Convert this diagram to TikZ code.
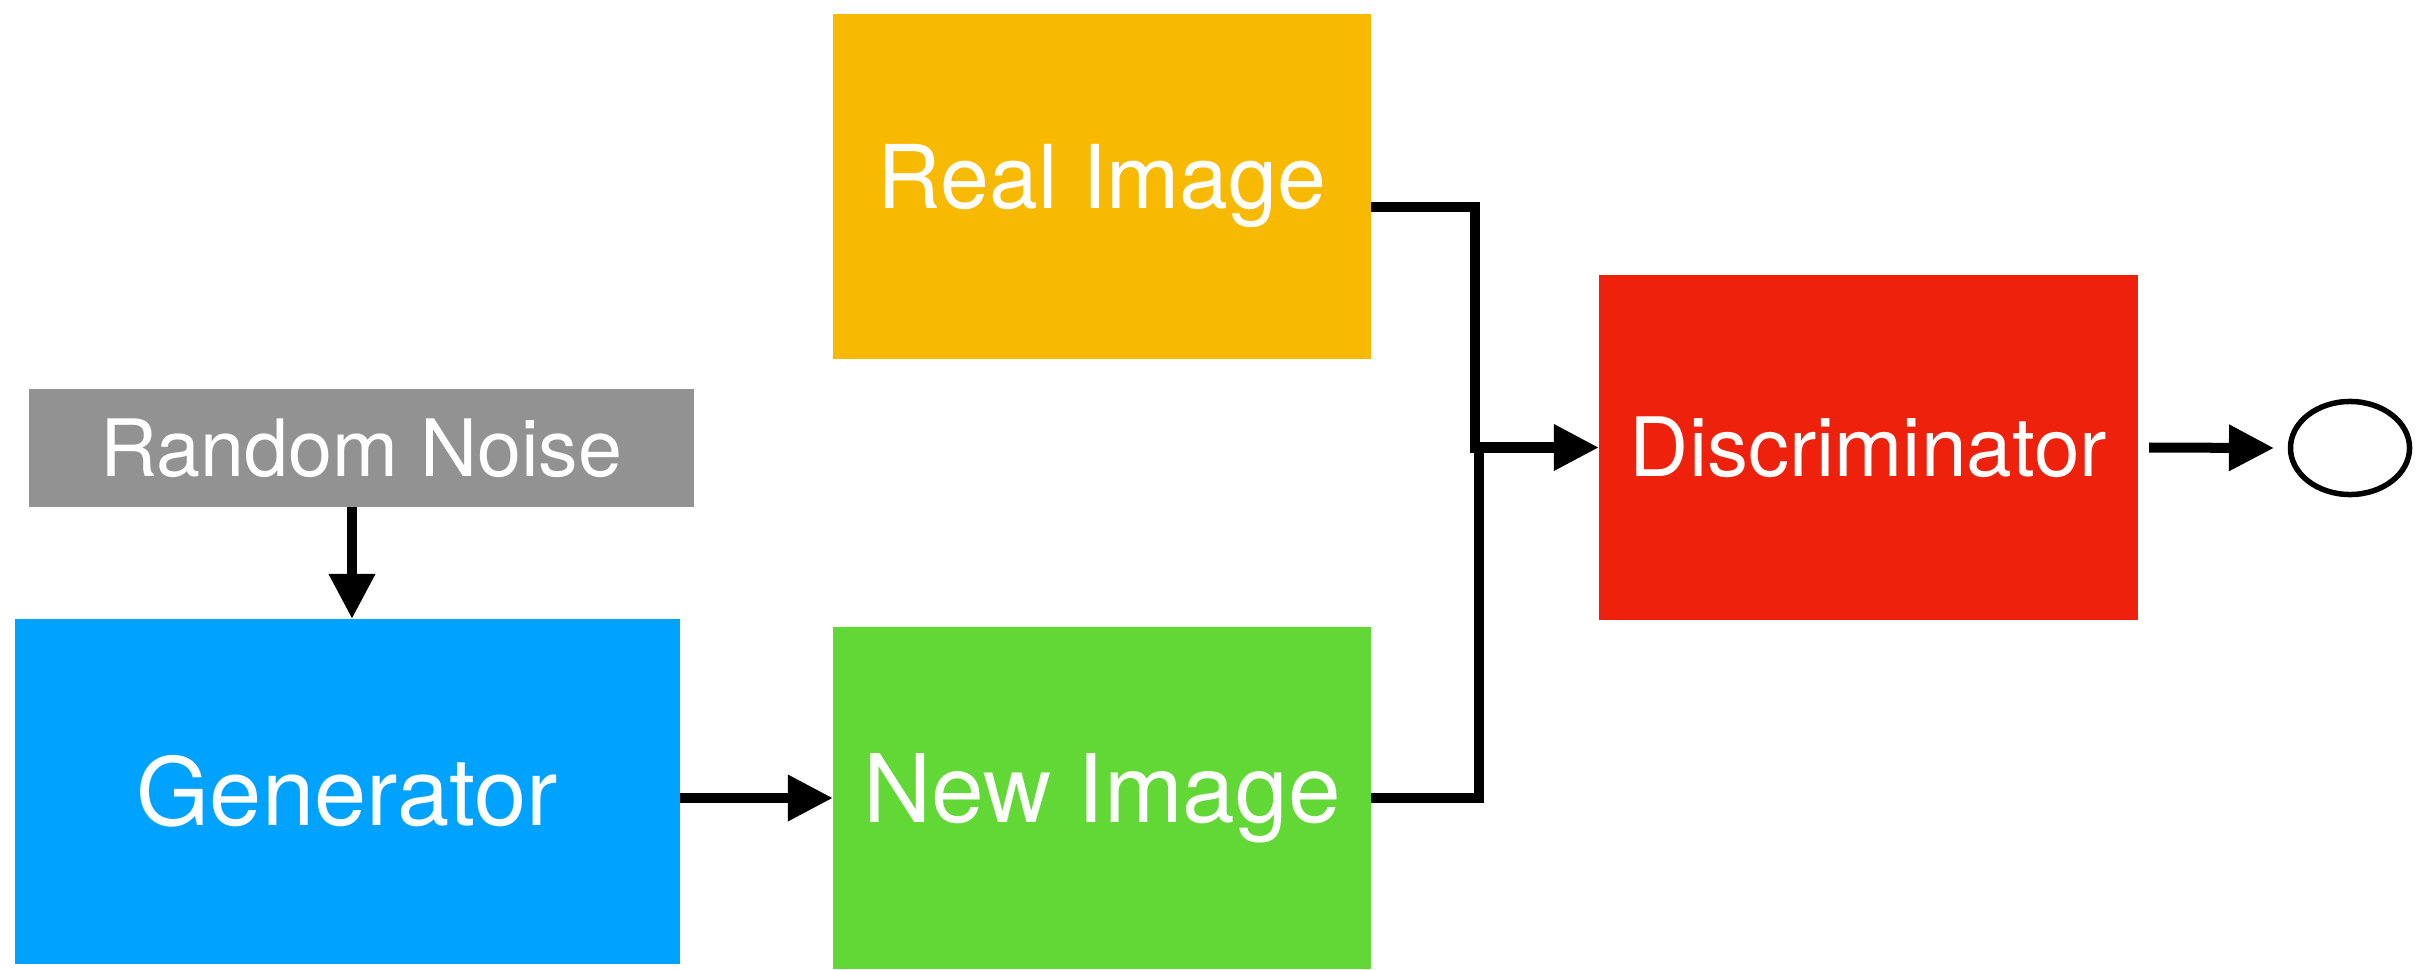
\documentclass[tikz,border=0pt]{standalone}
\usepackage{fontspec}
\setmainfont{TeX Gyre Heros}
\usetikzlibrary{arrows.meta,shapes.geometric,calc}
\definecolor{realc}{HTML}{F8BA00}
\definecolor{noisec}{HTML}{929292}
\definecolor{genc}{HTML}{00A2FF}
\definecolor{newc}{HTML}{61D836}
\definecolor{discc}{HTML}{EE220C}
\begin{document}
\begin{tikzpicture}[x=0.01cm,y=-0.01cm,
  block/.style={rectangle, inner sep=0pt, outer sep=0pt, text=white, align=center},
  wire/.style={line width=1.0mm, black, line join=miter},
  arr/.style={wire, -{Triangle[length=4.5mm,width=4.4mm]}},
]
\useasboundingbox (0,0) rectangle (2430,970);

% blocks
\node[block, fill=realc, minimum width=53.8mm, minimum height=34.5mm,
      font=\fontsize{25pt}{30pt}\selectfont] (real) at (1102,186.5) {Real Image};
\node[block, fill=noisec, minimum width=66.5mm, minimum height=11.8mm,
      font=\fontsize{22.5pt}{27pt}\selectfont] (noise) at (361.5,448) {Random Noise};
\node[block, fill=genc, minimum width=66.5mm, minimum height=34.5mm,
      font=\fontsize{26.7pt}{32pt}\selectfont] (gen) at (347.5,791.5) {Generator};
\node[block, fill=newc, minimum width=53.8mm, minimum height=34.2mm,
      font=\fontsize{26.9pt}{32pt}\selectfont] (newimg) at (1102,798) {New Image};
\node[block, fill=discc, minimum width=53.9mm, minimum height=34.5mm,
      font=\fontsize{23.3pt}{28pt}\selectfont] (disc) at (1868.5,447.5) {Discriminator};
\node[ellipse, draw, line width=0.55mm, inner sep=0pt, outer sep=0pt,
      minimum width=11.9mm, minimum height=9.3mm] (out) at (2350,448) {};

% connectors
\draw[arr] ([xshift=-0.95mm]noise.south) -- ([xshift=-0.95mm]noise.south |- gen.north);
\draw[arr] (gen.east |- newimg.west) -- (newimg.west);
\draw[arr] ([yshift=-2.05mm]real.east) -- ++(10.4mm,0) |- (disc.west);
\draw[wire] (newimg.east) -- ++(10.8mm,0) coordinate (j) -- (j |- disc.west);
\draw[arr] ([xshift=1.1mm]disc.east) -- ([xshift=-1.65mm]out.west);
\end{tikzpicture}
\end{document}
